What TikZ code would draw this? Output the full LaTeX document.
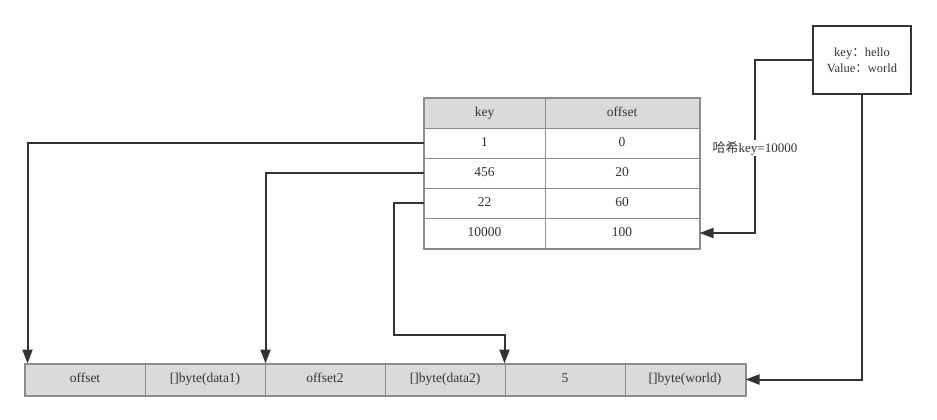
\documentclass[tikz,border=0pt]{standalone}
\usepackage{fontspec}
\setmainfont{Liberation Serif}
\newfontfamily\cjk{Noto Sans CJK SC}
\usetikzlibrary{arrows.meta}
\definecolor{ink}{HTML}{333333}
\definecolor{edge}{HTML}{8C8C8C}
\definecolor{shade}{HTML}{DADADA}

\tikzset{
  cell/.style={draw=edge, line width=1pt, minimum height=30pt, inner sep=0pt, text height=9.5pt, text depth=3pt, text=ink, font=\rmfamily\fontsize{13.5}{15}\selectfont},
  kcol/.style={cell, minimum width=121pt},
  vcol/.style={cell, minimum width=154pt},
  slot/.style={cell, fill=shade, minimum width=120pt, minimum height=31pt},
  link/.style={draw=ink, line width=2pt, -{Triangle[length=14pt,width=10pt]}},
}

\begin{document}
\begin{tikzpicture}[x=1pt,y=-1pt]
\useasboundingbox (0,0) rectangle (937,420);
% hash table
\node[kcol,fill=shade] (kh) at (484.5,113) {key};
\node[vcol,fill=shade] (vh) at (622,113) {offset};
\foreach \k/\v [count=\i] in {1/0,456/20,22/60,10000/100}{
  \node[kcol] (k\i) at (484.5,113+30*\i) {\k};
  \node[vcol] (v\i) at (622,113+30*\i) {\v};
}
\draw[edge,line width=2pt] (kh.north west) rectangle (v4.south east);
% data file
\foreach \t [count=\i] in {offset,{[]byte(data1)},offset2,{[]byte(data2)},5,{[]byte(world)}}
  \node[slot] (b\i) at (-35+120*\i,379.5) {\t};
\draw[edge,line width=2pt] (b1.north west) rectangle (b6.south east);
% entry
\node[draw=ink, line width=2pt, minimum width=98pt, minimum height=68pt, align=center, text=ink, font=\rmfamily\fontsize{12.5}{16}\selectfont] (kv) at (862,60) {key{\cjk ：}hello\\Value{\cjk ：}world};
\node[fill=white, inner sep=1pt, text=ink, font=\rmfamily\fontsize{13}{15}\selectfont] (hash) at (755,148) {{\cjk 哈希}key=10000};
\coordinate (hk) at (755,60);
\coordinate (dip) at (394,335);
% connectors
\draw[ink,line width=2pt] (kv.west) -- (hk) -- (hash.north);
\draw[link] (hash.south) |- (v4.east);
\draw[link] (kv.south) |- (b6.east);
\draw[link] (k1.west) -| ([xshift=3pt]b1.north west);
\draw[link] (k2.west) -| (b2.north east);
\draw[link] (k3.west) -| (dip) -| (b5.north west);
\end{tikzpicture}
\end{document}
